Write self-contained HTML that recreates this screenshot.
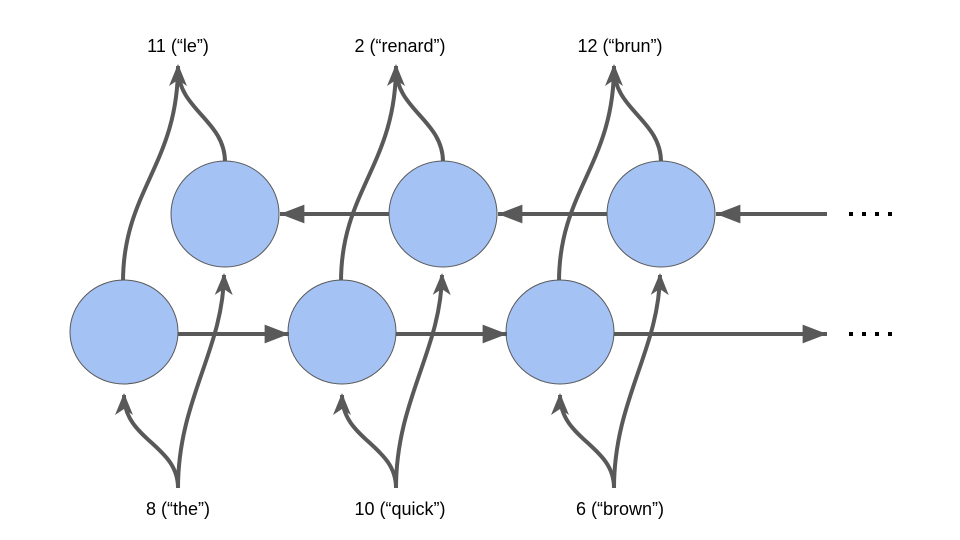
<!DOCTYPE html>
<html><head><meta charset="utf-8"><style>
html,body{margin:0;padding:0;background:#fff;width:960px;height:540px;overflow:hidden}
text{font-family:"Liberation Sans",sans-serif;font-size:18px;fill:#000}
</style></head><body>
<svg width="960" height="540" viewBox="0 0 960 540" xmlns="http://www.w3.org/2000/svg">
<defs>
<marker id="ca" markerUnits="userSpaceOnUse" markerWidth="30" markerHeight="30" refX="0" refY="0" viewBox="-25 -12 30 24" orient="auto" overflow="visible">
<path d="M2,0 L-20,-9 L-14,0 L-20,9 z" fill="#595959"/>
</marker>
<marker id="sa" markerUnits="userSpaceOnUse" markerWidth="30" markerHeight="30" refX="0" refY="0" viewBox="-30 -12 32 24" orient="auto" overflow="visible">
<path d="M0,0 L-26,-10 L-26,10 z" fill="#595959"/>
</marker>
<g id="col">
<path d="M178,488 C178,445 124,440 124,395" fill="none" stroke="#595959" stroke-width="4" marker-end="url(#ca)"/>
<path d="M178,488 C178,400 223,350 224,275" fill="none" stroke="#595959" stroke-width="4" marker-end="url(#ca)"/>
<path d="M123,282 C123,190 178,165 178,66" fill="none" stroke="#595959" stroke-width="4" marker-end="url(#ca)"/>
<path d="M225,162 C225,120 178,110 178,68" fill="none" stroke="#595959" stroke-width="4"/>
<ellipse cx="124" cy="332" rx="54" ry="52" fill="#a4c2f4" stroke="#595959" stroke-width="1"/>
<ellipse cx="225" cy="214" rx="54" ry="53" fill="#a4c2f4" stroke="#595959" stroke-width="1"/>
</g>
</defs>
<use href="#col"/>
<use href="#col" x="218"/>
<use href="#col" x="436"/>
<g stroke="#595959" stroke-width="4" fill="none">
<line x1="178" y1="334" x2="289" y2="334" marker-end="url(#sa)"/>
<line x1="396" y1="334" x2="507" y2="334" marker-end="url(#sa)"/>
<line x1="614" y1="334" x2="827" y2="334" marker-end="url(#sa)"/>
<line x1="389" y1="214" x2="280" y2="214" marker-end="url(#sa)"/>
<line x1="607" y1="214" x2="498" y2="214" marker-end="url(#sa)"/>
<line x1="827" y1="214" x2="716" y2="214" marker-end="url(#sa)"/>
</g>
<g fill="#000">
<rect x="849" y="212" width="4" height="4"/><rect x="862" y="212" width="4" height="4"/><rect x="875" y="212" width="4" height="4"/><rect x="888" y="212" width="4" height="4"/>
<rect x="849" y="332" width="4" height="4"/><rect x="862" y="332" width="4" height="4"/><rect x="875" y="332" width="4" height="4"/><rect x="888" y="332" width="4" height="4"/>
</g>
<text x="178" y="52" text-anchor="middle">11 (“le”)</text>
<text x="400" y="52" text-anchor="middle">2 (“renard”)</text>
<text x="620" y="52" text-anchor="middle">12 (“brun”)</text>
<text x="178" y="515" text-anchor="middle">8 (“the”)</text>
<text x="400" y="515" text-anchor="middle">10 (“quick”)</text>
<text x="620" y="515" text-anchor="middle">6 (“brown”)</text>
</svg>
</body></html>
